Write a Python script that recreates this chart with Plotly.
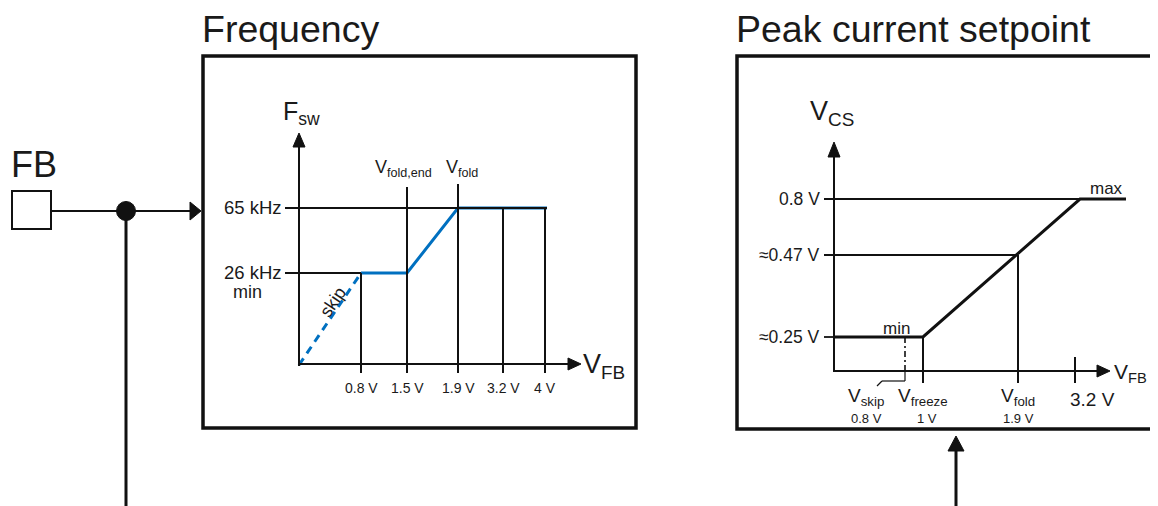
import plotly.graph_objects as go

W, H = 1158, 506
OFF = 8  # page body margin compensation
FIG_W = W - 2 * OFF
FONT = "Liberation Sans"
BLUE = "#0070C0"

# ---------------- data (diagram units) ----------------
# Frequency panel
freq_tick_labels = ["0.8 V", "1.5 V", "1.9 V", "3.2 V", "4 V"]
freq_tick_x = [361, 407, 458, 503, 545]
freq_tick_top = [273, 187, 184, 208, 208]
freq_level_labels = ["65 kHz", "26 kHz"]
freq_level_y = [208, 273]
fsw_x = [361, 407, 458, 547]
fsw_y = [273, 273, 208, 208]
skip_x = [299, 361]
skip_y = [365, 273]

# Peak current panel
peak_level_labels = ["0.8 V", "\u22480.47 V", "\u22480.25 V"]
peak_level_y = [199, 255, 337]
peak_level_end = [1080, 1018, 834]
vcs_x = [834, 923, 1080, 1126]
vcs_y = [337, 337, 199, 199]
peak_marks = ["V<sub>skip</sub>", "V<sub>freeze</sub>", "V<sub>fold</sub>"]
peak_mark_values = ["0.8 V", "1 V", "1.9 V"]
peak_mark_x = [866, 923, 1018]

fig = go.Figure()

shapes = []
annos = []


def line(x0, y0, x1, y1, w=1.6, color="#111", dash=None):
    d = dict(type="line", x0=x0, y0=y0, x1=x1, y1=y1, xref="x", yref="y",
             line=dict(color=color, width=w))
    if dash:
        d["line"]["dash"] = dash
    shapes.append(d)


def tri(pts, color="#111"):
    p = "M " + " L ".join(f"{x},{y}" for x, y in pts) + " Z"
    shapes.append(dict(type="path", path=p, xref="x", yref="y",
                       fillcolor=color, line=dict(color=color, width=1)))


def text(x, y, t, size=14, xa="center", ya="middle", angle=0, color="#1a1a1a"):
    annos.append(dict(x=x, y=y, xref="x", yref="y", text=t, showarrow=False,
                      xanchor=xa, yanchor=ya, textangle=angle,
                      font=dict(family=FONT, size=size, color=color)))


# ---------------- FB input ----------------
text(9, 164, "FB", 36, xa="left")
shapes.append(dict(type="rect", x0=12, y0=191, x1=51, y1=229, xref="x", yref="y",
                   line=dict(color="#111", width=2), fillcolor="white"))
line(51, 211, 192, 211, 2)
tri([(190, 202), (190, 220), (201, 211)])
line(126, 211, 126, 520, 3)
shapes.append(dict(type="circle", x0=116.5, y0=201.5, x1=135.5, y1=220.5,
                   xref="x", yref="y", fillcolor="#111", line=dict(color="#111", width=1)))

# ---------------- Frequency panel ----------------
text(200, 29, "Frequency", 37.5, xa="left")
shapes.append(dict(type="rect", x0=203, y0=56, x1=636, y1=428, xref="x", yref="y",
                   line=dict(color="#111", width=3.5)))
# axes
line(299, 366, 299, 146, 2)
tri([(293, 147), (305, 147), (299, 133)])
line(299, 364, 569, 364, 2)
tri([(568, 358), (568, 370), (581, 364)])
text(281, 113, "F<sub>sw</sub>", 25, xa="left")
text(581, 366, "V<sub>FB</sub>", 27, xa="left")
# levels
line(285, freq_level_y[0], 547, freq_level_y[0], 1.8)
line(285, freq_level_y[1], freq_tick_x[0], freq_level_y[1], 1.8)
for lab, yv in zip(freq_level_labels, freq_level_y):
    text(284, yv - 1, lab, 18.5, xa="right")
text(247, 292, "min", 18)
# verticals / ticks
for lab, xv, top in zip(freq_tick_labels, freq_tick_x, freq_tick_top):
    line(xv, top, xv, 373, 2)
    text(xv, 388, lab, 14)
text(403, 168, "V<sub>fold,end</sub>", 18)
text(462, 168, "V<sub>fold</sub>", 18)
# curve
fig.add_trace(go.Scatter(x=skip_x, y=skip_y, mode="lines",
                         line=dict(color=BLUE, width=3, dash="8px,6px"),
                         hoverinfo="skip", showlegend=False))
fig.add_trace(go.Scatter(x=fsw_x, y=fsw_y, mode="lines",
                         line=dict(color=BLUE, width=3),
                         hoverinfo="skip", showlegend=False))
text(333, 302, "skip", 18, angle=-56)

# ---------------- Peak current panel ----------------
text(734, 29, "Peak current setpoint", 37.5, xa="left")
shapes.append(dict(type="rect", x0=737, y0=56, x1=1175, y1=429, xref="x", yref="y",
                   line=dict(color="#111", width=3.5)))
line(834, 372, 834, 156, 2)
tri([(828, 157), (840, 157), (834, 142)])
line(834, 371, 1098, 371, 2)
tri([(1097, 365), (1097, 377), (1110, 371)])
text(808, 113, "V<sub>CS</sub>", 27, xa="left")
text(1112, 373, "V<sub>FB</sub>", 21, xa="left")
for lab, yv, xe in zip(peak_level_labels, peak_level_y, peak_level_end):
    line(824, yv, xe, yv, 1.8)
    text(822, yv, lab, 17.5, xa="right")
# verticals
line(923, 337, 923, 383, 2)
line(1018, 255, 1018, 383, 2)
line(1075, 357, 1075, 383, 2)
line(905, 337, 905, 371, 1.6, dash="6px,3px,2px,3px")
line(905, 371, 905, 381, 1.2)
line(905, 381, 882, 381, 1.2)
line(882, 381, 877, 386, 1.2)
fig.add_trace(go.Scatter(x=vcs_x, y=vcs_y, mode="lines",
                         line=dict(color="#111", width=3),
                         hoverinfo="skip", showlegend=False))
text(896, 328, "min", 17)
text(1106, 188, "max", 17)
for lab, val, xv in zip(peak_marks, peak_mark_values, peak_mark_x):
    text(xv, 397, lab, 19)
    text(xv + (4 if val == "1 V" else 0), 418, val, 13)
text(1092, 399, "3.2 V", 19)

# bottom arrow
line(956, 520, 956, 450, 3)
tri([(948, 451), (964, 451), (956, 436)])

fig.update_layout(
    width=FIG_W, height=H, margin=dict(l=0, r=0, t=0, b=0),
    paper_bgcolor="white", plot_bgcolor="white",
    xaxis=dict(range=[OFF, FIG_W + OFF], visible=False, fixedrange=True),
    yaxis=dict(range=[H + OFF, OFF], visible=False, fixedrange=True),
    shapes=shapes, annotations=annos, showlegend=False,
)
fig.write_html("out.html")
